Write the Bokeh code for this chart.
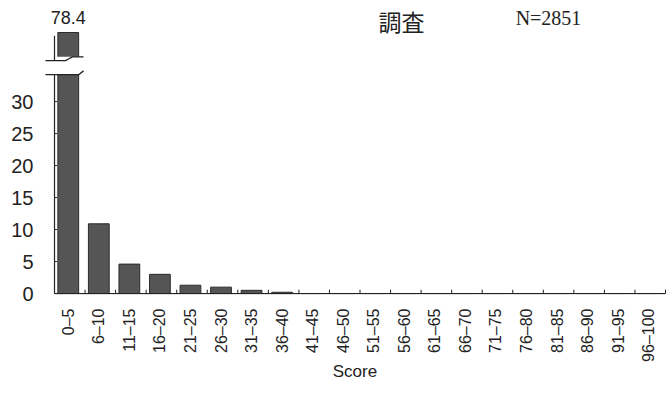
import math
from bokeh.plotting import figure
from bokeh.models import Range1d, FixedTicker, Label
from bokeh.core.properties import value
from bokeh.embed import file_html
from bokeh.resources import INLINE

# ---- data ----
categories = ["0–5", "6–10", "11–15", "16–20", "21–25", "26–30", "31–35", "36–40",
              "41–45", "46–50", "51–55", "56–60", "61–65", "66–70", "71–75", "76–80",
              "81–85", "86–90", "91–95", "96–100"]
percent = [78.4, 10.9, 4.6, 3.0, 1.3, 1.0, 0.5, 0.2, 0, 0,
           0, 0, 0, 0, 0, 0, 0, 0, 0, 0]
y_ticks = [0, 5, 10, 15, 20, 25, 30]
title_text = "調査"
n_text = "N=2851"
x_title = "Score"

# ---- broken-axis display settings ----
CAP = 40.8          # drawn top of bars exceeding the break
BREAK_LOW = 34.2
BREAK_HIGH = 37.0

xs = list(range(len(categories)))
shown = [min(v, CAP) for v in percent]

p = figure(width=667, height=410, output_backend="svg", toolbar_location=None,
           x_range=Range1d(-0.843, 19.615), y_range=Range1d(-0.15, 45.8),
           min_border_left=42, min_border_right=0, min_border_top=0,
           min_border_bottom=116)
p.outline_line_color = None
p.xgrid.grid_line_color = None
p.ygrid.grid_line_color = None
p.background_fill_color = "white"

ink = "#222222"

p.vbar(x=xs, top=shown, bottom=0, width=0.68, fill_color="#555555",
       line_color="#2b2b2b", line_width=1)

# break band
p.quad(left=[-0.6], right=[0.6], bottom=[BREAK_LOW], top=[BREAK_HIGH],
       fill_color="white", line_color=None)
# break lines
p.line(x=[-0.745, -0.09, 0.02, 0.14, 0.5], y=[36.4, 36.4, 36.7, 37.0, 37.0],
       line_color=ink, line_width=1.3)
p.line(x=[-0.745, 0.34, 0.5], y=[34.2, 34.2, 34.8], line_color=ink, line_width=1.3)

# manual axes
ax0 = -0.45
p.segment(x0=[ax0, ax0], y0=[0, 36.4], x1=[ax0, ax0], y1=[34.2, 40.3],
          line_color=ink, line_width=1.2)
p.segment(x0=[ax0], y0=[0], x1=[len(categories) - 0.45], y1=[0],
          line_color=ink, line_width=1.2)
bounds = [k - 0.45 for k in range(1, len(categories) + 1)]
p.segment(x0=bounds, y0=[0] * len(bounds), x1=bounds, y1=[0.6] * len(bounds),
          line_color=ink, line_width=1)
p.segment(x0=[ax0] * len(y_ticks), y0=y_ticks, x1=[ax0 + 0.08] * len(y_ticks),
          y1=y_ticks, line_color=ink, line_width=1)

# value label for the broken bar
p.text(x=[0], y=[43.1], text=[f"{percent[0]}"], text_align="center",
       text_baseline="middle", text_font=value("Liberation Sans"),
       text_font_size="18px", text_color=ink)

p.add_layout(Label(x=10.91, y=42.66, text=title_text, text_align="center",
                   text_baseline="middle", text_font="Noto Sans CJK JP",
                   text_font_size="23px", text_color=ink))
p.add_layout(Label(x=15.72, y=43.0, text=n_text, text_align="center",
                   text_baseline="middle", text_font="Liberation Serif",
                   text_font_size="20px", text_color=ink))

# axes styling
p.yaxis.ticker = FixedTicker(ticks=y_ticks)
p.yaxis.axis_line_color = None
p.yaxis.major_tick_line_color = None
p.yaxis.minor_tick_line_color = None
p.yaxis.major_tick_in = 0
p.yaxis.major_tick_out = 0
p.yaxis.major_label_standoff = 9
p.yaxis.major_label_text_font = "Liberation Sans"
p.yaxis.major_label_text_font_size = "20px"
p.yaxis.major_label_text_color = ink

p.xaxis.ticker = FixedTicker(ticks=xs)
p.xaxis.major_label_overrides = {i: c for i, c in zip(xs, categories)}
p.xaxis.major_label_orientation = math.pi / 2
p.xaxis.axis_line_color = None
p.xaxis.major_tick_line_color = None
p.xaxis.minor_tick_line_color = None
p.xaxis.major_tick_in = 0
p.xaxis.major_tick_out = 0
p.xaxis.major_label_standoff = 14
p.xaxis.major_label_text_font = "Liberation Sans"
p.xaxis.major_label_text_font_size = "16px"
p.xaxis.major_label_text_color = ink
p.xaxis.axis_label = x_title
p.xaxis.axis_label_text_font = "Liberation Sans"
p.xaxis.axis_label_text_font_style = "normal"
p.xaxis.axis_label_text_font_size = "17px"
p.xaxis.axis_label_text_color = ink
p.xaxis.axis_label_standoff = -3

open("out.html", "w").write(file_html(p, INLINE))
